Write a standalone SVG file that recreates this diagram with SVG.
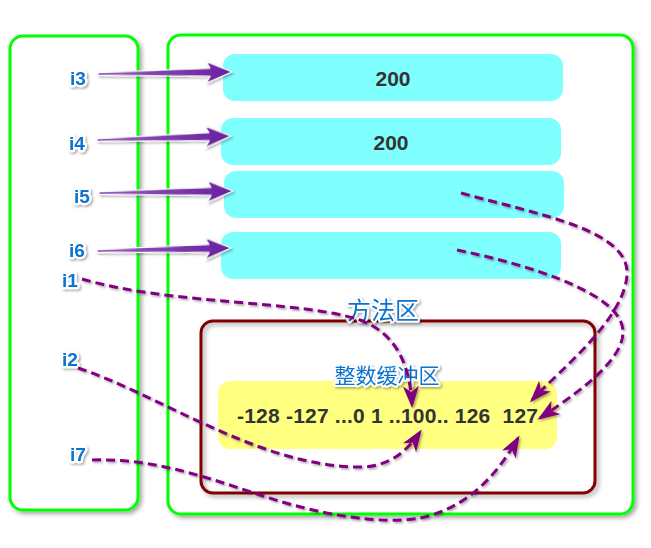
<svg xmlns="http://www.w3.org/2000/svg" xmlns:xlink="http://www.w3.org/1999/xlink" width="651" height="548" viewBox="0 0 651 548">
  <defs>
    <filter id="sh" x="-20%" y="-20%" width="140%" height="140%">
      <feDropShadow dx="2.5" dy="2.5" stdDeviation="2" flood-color="#000" flood-opacity="0.35"/>
    </filter>
    <filter id="tsh" x="-30%" y="-30%" width="160%" height="160%">
      <feDropShadow dx="1.5" dy="1.5" stdDeviation="1.2" flood-color="#000" flood-opacity="0.35"/>
    </filter>
    <marker id="ah" markerUnits="userSpaceOnUse" markerWidth="24" markerHeight="18" refX="19" refY="8" orient="auto">
      <path d="M0,0 L22,8 L0,16 L6,8 Z" fill="#800080"/>
    </marker>
    <path id="fat" d="M0,-1.3 L112,-4 L108,-11 L134,0 L108,11 L112,4 L0,1.3 Z"/>
    <linearGradient id="fg" x1="0" y1="0" x2="1" y2="0">
      <stop offset="0" stop-color="#9a5cc0"/>
      <stop offset="1" stop-color="#6a1fa0"/>
    </linearGradient>
  </defs>
  <style>
    .area { fill: #ffffff; stroke: #00ff00; stroke-width: 3; filter: url(#sh); }
    .slot { fill: #80ffff; }
    .val { font-family: "Liberation Sans", Arial, sans-serif; font-weight: bold; font-size: 21px; fill: #333333; }
    .lbl { font-family: "Liberation Sans", Arial, sans-serif; font-weight: bold; font-size: 19px; fill: #0b73d1; stroke: #ffffff; stroke-width: 4.5; stroke-linejoin: round; paint-order: stroke; text-anchor: middle; filter: url(#tsh); }
    .cjk { font-family: "Noto Sans CJK SC", "Liberation Sans", sans-serif; fill: #0b73d1; stroke: #ffffff; stroke-width: 4; stroke-linejoin: round; paint-order: stroke; text-anchor: middle; filter: url(#tsh); }
    .fatarrow { fill: url(#fg); stroke: #ffffff; stroke-width: 1.2; stroke-linejoin: round; filter: url(#tsh); }
    .dash { fill: none; stroke: #800080; stroke-width: 3; stroke-dasharray: 9 5; marker-end: url(#ah); filter: url(#tsh); }
  </style>

  <g id="stack">
    <rect class="area" x="10" y="36" width="128" height="474" rx="13"/>
  </g>

  <g id="heap">
    <rect class="area" x="168" y="35" width="465" height="479" rx="13"/>
  </g>

  <g id="slot1">
    <rect class="slot" x="223" y="54" width="340" height="47" rx="12"/>
    <text class="val" x="393" y="86" text-anchor="middle">200</text>
  </g>
  <g id="slot2">
    <rect class="slot" x="221" y="118" width="340" height="47" rx="12"/>
    <text class="val" x="391" y="150" text-anchor="middle">200</text>
  </g>
  <g id="slot3">
    <rect class="slot" x="224" y="171" width="340" height="47" rx="12"/>
  </g>
  <g id="slot4">
    <rect class="slot" x="221" y="232" width="340" height="47" rx="12"/>
  </g>

  <g id="method-area">
    <rect x="201" y="321" width="394" height="172" rx="12" fill="none" stroke="#800000" stroke-width="3" filter="url(#sh)"/>
    <text class="cjk" x="383" y="319" font-size="24">方法区</text>
  </g>

  <g id="int-cache">
    <rect x="218" y="381" width="339" height="68" rx="12" fill="#ffff80"/>
    <text class="cjk" x="387" y="383" font-size="21">整数缓冲区</text>
    <text class="val" x="237" y="423" xml:space="preserve" textLength="301" lengthAdjust="spacing">-128 -127 ...0 1 ..100.. 126  127</text>
  </g>

  <g id="labels">
    <g id="i3"><text class="lbl" x="78" y="85">i3</text></g>
    <g id="i4"><text class="lbl" x="77" y="150">i4</text></g>
    <g id="i5"><text class="lbl" x="82" y="203">i5</text></g>
    <g id="i6"><text class="lbl" x="77" y="257">i6</text></g>
    <g id="i1"><text class="lbl" x="70" y="287">i1</text></g>
    <g id="i2"><text class="lbl" x="70" y="366">i2</text></g>
    <g id="i7"><text class="lbl" x="78" y="461">i7</text></g>
  </g>

  <g id="connectors">
    <use xlink:href="#fat" class="fatarrow" transform="translate(98,74) rotate(-0.9)"/>
    <use xlink:href="#fat" class="fatarrow" transform="translate(97,140) rotate(-1.7)"/>
    <use xlink:href="#fat" class="fatarrow" transform="translate(99,193) rotate(-0.85)"/>
    <use xlink:href="#fat" class="fatarrow" transform="translate(97,251) rotate(-1.3)"/>
    <path class="dash" d="M82,279 C170,305 300,300 360,320 C400,335 410,370 412,405"/>
    <path class="dash" d="M78,368 C160,395 260,467 360,467 C390,467 408,450 420,432"/>
    <path class="dash" d="M92,460 C150,458 200,475 260,495 C320,515 380,525 420,518 C470,508 500,470 518,438"/>
    <path class="dash" d="M461,193 C540,215 630,230 627,275 C624,320 560,370 532,400"/>
    <path class="dash" d="M457,250 C530,265 605,290 620,320 C635,350 590,385 540,418"/>
  </g>
</svg>
